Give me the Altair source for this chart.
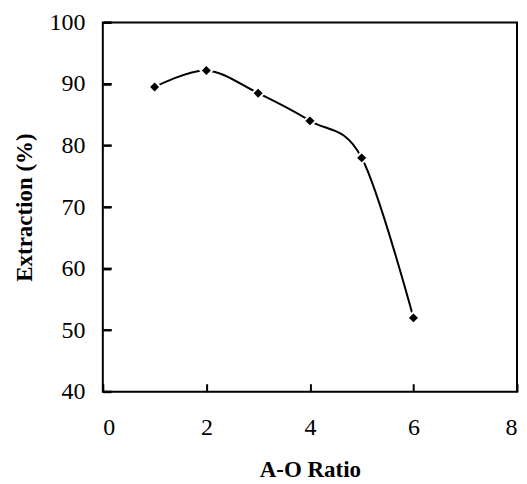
import altair as alt
import pandas as pd

ratio = [1, 2, 3, 4, 5, 6]
extraction = [89.5, 92.2, 88.5, 84.0, 78.0, 52.0]
x_ticks = [0, 2, 4, 6, 8]
y_ticks = [40, 50, 60, 70, 80, 90, 100]

df = pd.DataFrame({"ratio": ratio, "extraction": extraction})
yt = pd.DataFrame({"v": y_ticks})

W, H = 415, 370
FONT = "Liberation Serif"
TICK = 8

xscale = alt.Scale(domain=[0, 8], nice=False, zero=False)
yscale = alt.Scale(domain=[40, 100], nice=False, zero=False)

xaxis = alt.Axis(values=x_ticks, title="A-O Ratio", grid=False, domain=False, ticks=False,
                 orient="bottom",
                 labelFont=FONT, labelFontSize=24, labelColor="black", labelPadding=24,
                 titleFont=FONT, titleFontSize=23, titleFontWeight="bold", titleColor="black",
                 titlePadding=19)
yaxis = alt.Axis(values=y_ticks, title="Extraction (%)", grid=False, domain=False, ticks=False,
                 orient="left",
                 labelFont=FONT, labelFontSize=24, labelColor="black", labelPadding=18,
                 titleFont=FONT, titleFontSize=23, titleFontWeight="bold", titleColor="black",
                 titlePadding=12)

xtick_axis = alt.Axis(values=x_ticks, title=None, labels=False, grid=False, domain=False,
                      ticks=True, tickSize=TICK, tickWidth=2, tickColor="black",
                      offset=-TICK, orient="bottom")
ytick_axis = alt.Axis(values=y_ticks, title=None, labels=False, grid=False, domain=False,
                      ticks=True, tickSize=TICK, tickWidth=2, tickColor="black",
                      offset=-TICK, orient="left")

line = alt.Chart(df).mark_line(color="black", strokeWidth=2, interpolate="cardinal").encode(
    x=alt.X("ratio:Q", scale=xscale, axis=xaxis),
    y=alt.Y("extraction:Q", scale=yscale, axis=yaxis),
)
pts = alt.Chart(df).mark_point(shape="diamond", filled=True, fill="black", size=140,
                               stroke="white", strokeWidth=2, opacity=1).encode(
    x=alt.X("ratio:Q", scale=xscale, axis=xtick_axis),
    y=alt.Y("extraction:Q", scale=yscale, axis=ytick_axis),
)
# extra inward y ticks drawn as rules inside the plot
yrule = alt.Chart(yt).mark_rule(color="black", strokeWidth=2).encode(
    y=alt.Y("v:Q", scale=yscale, axis=None),
    x=alt.value(1),
    x2=alt.value(TICK + 1),
)

chart = alt.layer(line, pts, yrule).resolve_axis(x="independent", y="independent").properties(
    width=W, height=H,
    autosize=alt.AutoSizeParams(type="none"),
    padding={"left": 95, "top": 14, "right": 2, "bottom": 90},
    background="white",
).configure_view(stroke="black", strokeWidth=2)

chart.save("out.html", embed_options={"renderer": "svg", "actions": False})
